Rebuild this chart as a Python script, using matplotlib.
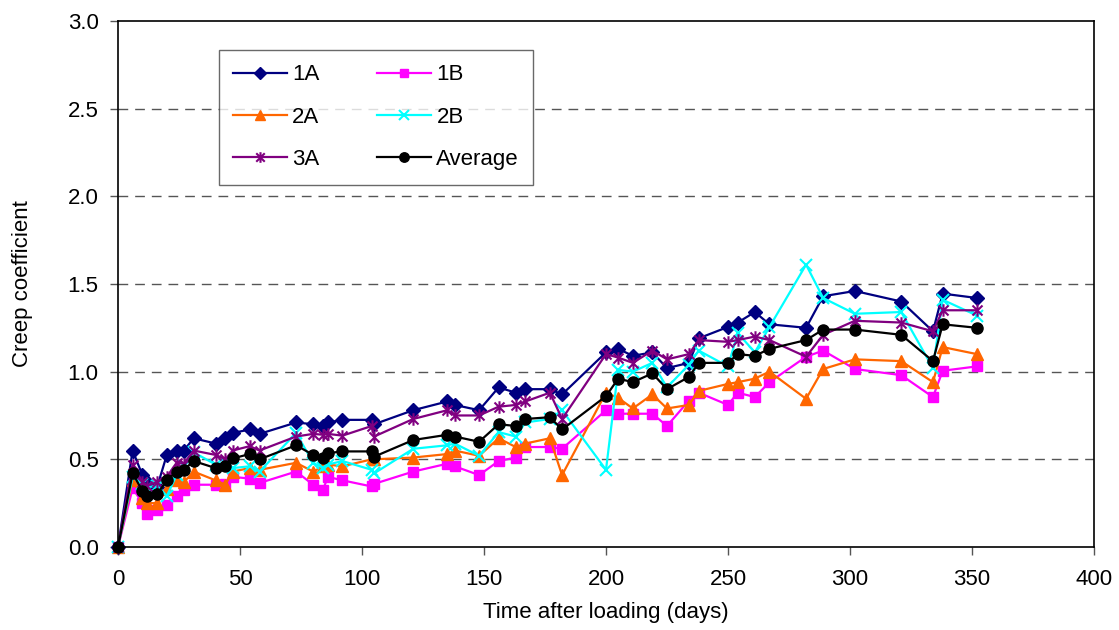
import matplotlib
matplotlib.use("Agg")
import matplotlib.pyplot as plt
from matplotlib.path import Path
from matplotlib.ticker import MultipleLocator, FormatStrFormatter

# time after loading (days), shared by all specimens
days = [0, 6, 10, 12, 16, 20, 24, 27, 31, 40, 44, 47, 54, 58, 73, 80, 84, 86, 92,
	104, 105, 121, 135, 138, 148, 156, 163, 167, 177, 182, 200, 205, 211, 219, 225,
	234, 238, 250, 254, 261, 267, 282, 289, 302, 321, 334, 338, 352]

cc_1a = [0, 0.55, 0.41, 0.37, 0.34, 0.525, 0.55, 0.55, 0.62, 0.59, 0.62, 0.65, 0.67, 0.645,
	0.71, 0.70, 0.69, 0.71, 0.725, 0.725, 0.70, 0.78, 0.83, 0.81, 0.78, 0.91, 0.88, 0.90,
	0.90, 0.87, 1.11, 1.13, 1.09, 1.11, 1.02, 1.05, 1.19, 1.255, 1.28, 1.34, 1.27, 1.25,
	1.43, 1.46, 1.40, 1.23, 1.445, 1.42]
cc_1b = [0, 0.335, 0.25, 0.19, 0.21, 0.24, 0.29, 0.325, 0.355, 0.355, 0.36, 0.40, 0.39, 0.365,
	0.43, 0.355, 0.325, 0.40, 0.38, 0.345, 0.36, 0.43, 0.475, 0.46, 0.41, 0.49, 0.51, 0.57,
	0.57, 0.56, 0.78, 0.76, 0.76, 0.76, 0.69, 0.835, 0.88, 0.81, 0.88, 0.855, 0.94, 1.085,
	1.12, 1.015, 0.98, 0.855, 1.005, 1.03]
cc_2a = [0, 0.38, 0.28, 0.25, 0.25, 0.33, 0.38, 0.37, 0.43, 0.38, 0.355, 0.43, 0.45, 0.44,
	0.48, 0.43, 0.46, 0.47, 0.46, 0.50, 0.50, 0.51, 0.53, 0.55, 0.52, 0.62, 0.57, 0.59,
	0.62, 0.41, 0.88, 0.85, 0.79, 0.87, 0.79, 0.81, 0.89, 0.93, 0.94, 0.96, 1.00, 0.845,
	1.015, 1.07, 1.06, 0.94, 1.14, 1.10]
cc_2b = [0, 0.40, 0.36, 0.34, 0.35, 0.29, 0.41, 0.46, 0.54, 0.47, 0.48, 0.45, 0.46, 0.43,
	0.65, 0.48, 0.45, 0.47, 0.49, 0.44, 0.42, 0.56, 0.58, 0.59, 0.52, 0.655, 0.63, 0.71,
	0.73, 0.78, 0.44, 1.01, 1.00, 1.05, 0.91, 1.04, 1.12, 1.03, 1.22, 1.11, 1.255, 1.61,
	1.42, 1.33, 1.34, 1.02, 1.41, 1.32]
cc_3a = [0, 0.47, 0.37, 0.35, 0.37, 0.40, 0.48, 0.475, 0.55, 0.525, 0.50, 0.55, 0.575, 0.55,
	0.63, 0.645, 0.64, 0.645, 0.635, 0.69, 0.63, 0.73, 0.78, 0.75, 0.75, 0.80, 0.81, 0.83,
	0.88, 0.73, 1.10, 1.08, 1.05, 1.12, 1.07, 1.10, 1.18, 1.17, 1.18, 1.20, 1.18, 1.085,
	1.21, 1.29, 1.28, 1.23, 1.35, 1.35]
cc_avg = [0, 0.42, 0.32, 0.29, 0.30, 0.38, 0.43, 0.44, 0.49, 0.45, 0.46, 0.505, 0.53, 0.50,
	0.58, 0.525, 0.505, 0.535, 0.545, 0.545, 0.515, 0.61, 0.64, 0.63, 0.60, 0.70, 0.69, 0.73,
	0.74, 0.67, 0.86, 0.96, 0.94, 0.99, 0.90, 0.97, 1.05, 1.05, 1.10, 1.09, 1.13, 1.18,
	1.24, 1.24, 1.21, 1.06, 1.27, 1.25]

labels = ["1A", "1B", "2A", "2B", "3A", "Average"]

# excel style "star" marker: x with a vertical bar
star = Path([(0, -1), (0, 1), (-0.8, -0.8), (0.8, 0.8), (-0.8, 0.8), (0.8, -0.8)],
	[Path.MOVETO, Path.LINETO, Path.MOVETO, Path.LINETO, Path.MOVETO, Path.LINETO])

styles = {
	"1A": dict(color="#000080", marker="D", ms=7.5),
	"1B": dict(color="#FF00FF", marker="s", ms=7.5),
	"2A": dict(color="#FF6600", marker="^", ms=8.5),
	"2B": dict(color="#00FFFF", marker="x", ms=8, mew=1.5),
	"3A": dict(color="#800080", marker=star, ms=9, mew=1.5),
	"Average": dict(color="black", marker="o", ms=8),
}

plt.rcParams["font.family"] = ["Liberation Sans", "DejaVu Sans"]

fig = plt.figure(figsize=(11.19, 6.3), dpi=100)
ax = fig.add_axes([0.10545, 0.1318, 0.8722, 0.8349])

series = [cc_1a, cc_1b, cc_2a, cc_2b, cc_3a, cc_avg]
handles = {}
for name, vals in zip(labels, series):
	st = styles[name]
	ln, = ax.plot(days, vals, color=st["color"], lw=1.6, marker=st["marker"],
		ms=st["ms"], mew=st.get("mew", 1.0), mfc=st["color"], mec=st["color"],
		label=name, clip_on=False)
	handles[name] = ln

ax.set_xlim(0, 400)
ax.set_ylim(0, 3.0)
ax.xaxis.set_major_locator(MultipleLocator(50))
ax.yaxis.set_major_locator(MultipleLocator(0.5))
ax.yaxis.set_major_formatter(FormatStrFormatter("%.1f"))

for yv in [0.5, 1.0, 1.5, 2.0, 2.5]:
	ax.axhline(yv, color="#555555", lw=1.0, dashes=(7, 5), zorder=0)

for sp in ax.spines.values():
	sp.set_linewidth(1.2)
	sp.set_color("black")

ax.tick_params(axis="both", direction="out", length=6, width=1.0, color="#555555",
	labelsize=16)
ax.tick_params(axis="x", pad=10)
ax.tick_params(axis="y", pad=8)

ax.set_xlabel("Time after loading (days)", fontsize=16)
ax.set_ylabel("Creep coefficient", fontsize=16)
ax.xaxis.set_label_coords(0.5, -0.105)
ax.yaxis.set_label_coords(-0.087, 0.5)

order = ["1A", "2A", "3A", "1B", "2B", "Average"]
leg = ax.legend([handles[k] for k in order], order, ncol=2, fontsize=16,
	loc="upper left", bbox_to_anchor=(219 / 1119, 1 - 50 / 630),
	bbox_transform=fig.transFigure, borderaxespad=0, frameon=True, fancybox=False,
	handlelength=2.4, handletextpad=0.25, columnspacing=2.6, labelspacing=0.96,
	borderpad=0.65, markerscale=0.85)
leg.get_frame().set_edgecolor("#444444")
leg.get_frame().set_linewidth(1.0)

plt.savefig("out.png", dpi=100)
